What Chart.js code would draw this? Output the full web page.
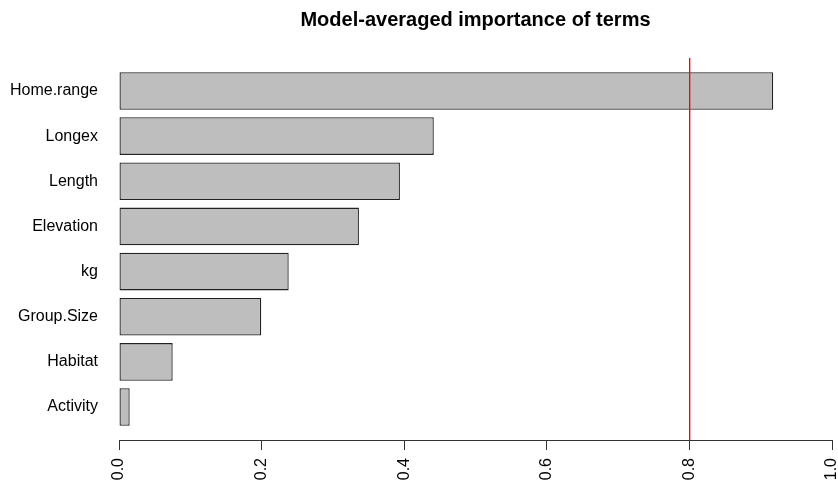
<!DOCTYPE html>
<html>
<head>
<meta charset="utf-8">
<script src="https://cdn.jsdelivr.net/npm/chart.js@4/dist/chart.umd.min.js"></script>
<style>
  html, body { margin: 0; padding: 0; background: #fff; }
  #wrap { width: 838px; height: 485px; }
</style>
</head>
<body>
<div id="wrap"><canvas id="chart" width="838" height="485"></canvas></div>
<script>
const terms = ["Home.range", "Longex", "Length", "Elevation", "kg", "Group.Size", "Habitat", "Activity"];
const importance = [0.9175, 0.4415, 0.394, 0.3365, 0.238, 0.1995, 0.0753, 0.015];
const xTicks = [0, 0.2, 0.4, 0.6, 0.8, 1.0];
const cutoff = 0.8;

// vertical reference line at the cutoff value
const cutoffLine = {
  id: "cutoffLine",
  afterDraw(chart) {
    const { ctx, chartArea, scales } = chart;
    const x = Math.round(scales.x.getPixelForValue(cutoff));
    ctx.save();
    ctx.fillStyle = "#ff0000";
    ctx.fillRect(x, chartArea.top, 1, chartArea.bottom - chartArea.top);
    ctx.fillStyle = "rgba(255, 0, 0, 0.35)";
    ctx.fillRect(x + 1, chartArea.top, 1, chartArea.bottom - chartArea.top);
    ctx.restore();
  },
};

new Chart(document.getElementById("chart"), {
  type: "bar",
  data: {
    datasets: [{
      data: importance.map((v, i) => ({ x: v, y: i })),
      backgroundColor: "#bebebe",
      borderColor: "#222",
      borderWidth: 1.3,
      borderSkipped: false,
      categoryPercentage: 1,
      barPercentage: 0.833,
    }],
  },
  options: {
    indexAxis: "y",
    responsive: false,
    animation: false,
    layout: { padding: { right: 6, left: 0, bottom: 0, top: 0 } },
    plugins: {
      legend: { display: false },
      tooltip: { enabled: false },
      title: {
        display: true,
        fullSize: false,
        text: "Model-averaged importance of terms",
        color: "#000",
        font: { family: "Liberation Sans, Arial, sans-serif", size: 20, weight: "bold" },
        padding: { top: 8, bottom: 26 },
      },
    },
    scales: {
      x: {
        type: "linear",
        min: 0,
        max: 1,
        afterBuildTicks: (s) => { s.ticks = xTicks.map((v) => ({ value: v })); },
        afterFit: (s) => { s.height = 45; s.paddingLeft = 0; s.paddingRight = 0; },
        border: { display: true, color: "#333", width: 1 },
        grid: { display: true, drawOnChartArea: false, drawTicks: true, tickLength: 10, color: "#333" },
        ticks: {
          minRotation: 90,
          maxRotation: 90,
          padding: 8,
          color: "#000",
          font: { family: "Liberation Sans, Arial, sans-serif", size: 16 },
          callback: (v) => Number(v).toFixed(1),
        },
      },
      y: {
        type: "linear",
        reverse: true,
        offset: false,
        min: -0.73,
        max: 7.73,
        afterBuildTicks: (s) => { s.ticks = terms.map((_, i) => ({ value: i })); },
        afterFit: (s) => { s.width = 119; s.paddingTop = 0; s.paddingBottom = 0; },
        border: { display: false },
        grid: { display: false, drawTicks: false },
        ticks: {
          padding: 21,
          color: "#000",
          font: { family: "Liberation Sans, Arial, sans-serif", size: 16 },
          callback: (v) => terms[v],
        },
      },
    },
  },
  plugins: [cutoffLine],
});
</script>
</body>
</html>
